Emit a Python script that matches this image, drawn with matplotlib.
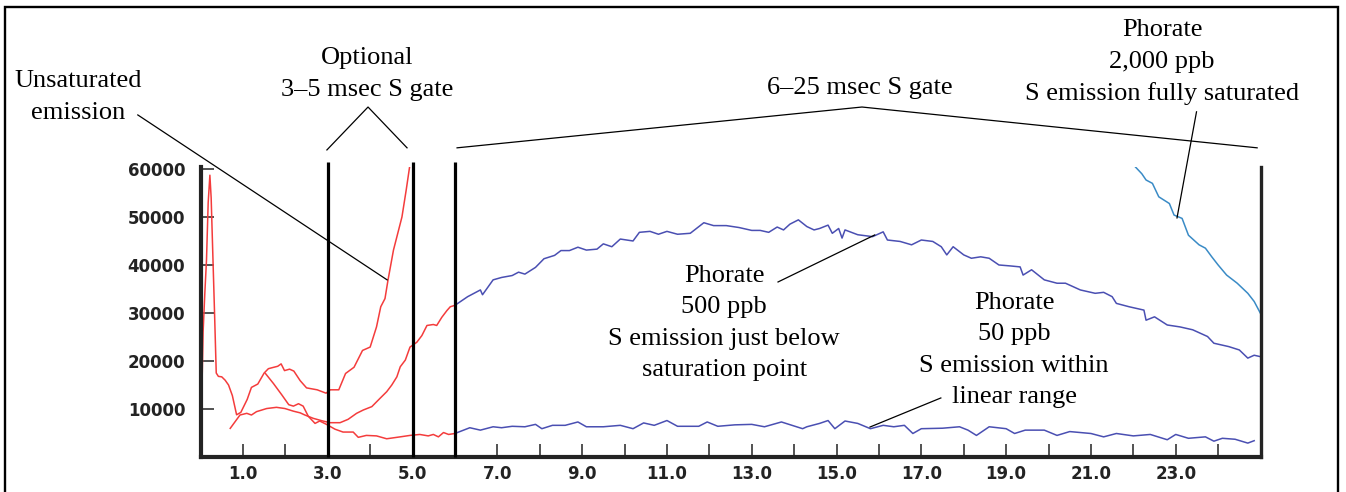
import matplotlib
matplotlib.use("Agg")
import matplotlib.pyplot as plt
import matplotlib.patches as patches

# ---- data ----
red_2000_x = [0.03, 0.06, 0.1, 0.14, 0.18, 0.22, 0.25, 0.29, 0.33, 0.37, 0.42, 0.5, 0.58, 0.66,
              0.75, 0.85, 0.95, 1.1, 1.2, 1.35, 1.5, 1.6, 1.73, 1.82, 1.9, 1.98, 2.1, 2.2, 2.35,
              2.5, 2.75, 2.96, 3.06, 3.26, 3.42, 3.62, 3.82, 4.0, 4.15, 4.25, 4.35, 4.42, 4.55,
              4.75, 4.85, 4.93]
red_2000_y = [13000, 26000, 34000, 41000, 53000, 58700, 54000, 42000, 30000, 17500, 16800,
              16700, 16000, 15000, 12800, 8800, 9300, 12000, 14500, 15200, 17500, 18400, 18700,
              18900, 19400, 18000, 18300, 17900, 15900, 14400, 14000, 13300, 14000, 14000,
              17400, 18700, 22200, 22900, 27100, 31300, 33000, 36800, 43100, 50000, 55600, 60400]

red_500_x = [0.7, 0.93, 1.09, 1.2, 1.32, 1.56, 1.79, 1.99, 2.19, 2.35, 2.46, 2.66, 2.86, 3.05,
             3.29, 3.48, 3.68, 3.84, 4.04, 4.23, 4.39, 4.51, 4.63, 4.71, 4.83, 4.94, 5.1, 5.22,
             5.34, 5.49, 5.57, 5.69, 5.81, 5.89, 6.0]
red_500_y = [5970, 8750, 9100, 8750, 9450, 10100, 10350, 10100, 9550, 9200, 8750, 8050, 7560,
             7150, 7150, 7850, 9100, 9800, 10500, 12200, 13600, 15000, 16700, 18800, 20200,
             22900, 23900, 25300, 27400, 27600, 27400, 29100, 30500, 31300, 31600]

red_50_x = [1.53, 1.72, 1.92, 2.08, 2.19, 2.31, 2.42, 2.54, 2.7, 2.81, 2.97, 3.17, 3.36, 3.6,
            3.72, 3.91, 4.15, 4.39, 4.71, 4.94, 5.17, 5.37, 5.49, 5.61, 5.73, 5.85, 6.0]
red_50_y = [17400, 15300, 12900, 10900, 10600, 11100, 10600, 8500, 7000, 7500, 6800, 5800, 5200,
            5200, 4100, 4500, 4400, 3800, 4200, 4500, 4700, 4400, 4700, 4200, 5100, 4700, 4900]

blue_500_x = [6.0, 6.3, 6.6, 6.65, 6.9, 7.1, 7.35, 7.5, 7.65, 7.9, 8.1, 8.35, 8.5, 8.7, 8.9, 9.1,
              9.35, 9.5, 9.7, 9.9, 10.2, 10.35, 10.6, 10.8, 11.0, 11.25, 11.55, 11.87, 12.1, 12.4,
              12.7, 13.0, 13.2, 13.4, 13.6, 13.75, 13.9, 14.1, 14.3, 14.47, 14.6, 14.8, 14.9,
              15.05, 15.13, 15.2, 15.5, 15.85, 16.1, 16.2, 16.5, 16.77, 17.0, 17.27, 17.47, 17.6,
              17.75, 18.0, 18.18, 18.4, 18.6, 18.83, 19.1, 19.33, 19.4, 19.6, 19.9, 20.2, 20.4,
              20.75, 21.1, 21.3, 21.5, 21.6, 21.9, 22.25, 22.3, 22.5, 22.8, 23.1, 23.4, 23.75,
              23.9, 24.25, 24.5, 24.7, 24.85, 25.0]
blue_500_y = [31600, 33400, 34800, 33800, 36900, 37400, 37800, 38500, 38100, 39500, 41300, 42000,
              43000, 43000, 43700, 43100, 43300, 44400, 43800, 45400, 45000, 46800, 47000, 46400,
              47000, 46400, 46600, 48800, 48200, 48200, 47800, 47200, 47200, 46800, 47900, 47300,
              48500, 49400, 48000, 47300, 47600, 48300, 46600, 47600, 45600, 47300, 46300, 45900,
              46900, 45200, 44900, 44200, 45200, 44900, 43800, 42100, 43800, 42100, 41400, 41700,
              41400, 40000, 39800, 39600, 37900, 39000, 36900, 36200, 36200, 34800, 34100, 34300,
              33400, 32000, 31300, 30600, 28500, 29200, 27500, 27100, 26500, 25100, 23700, 23000,
              22300, 20600, 21200, 20900]

blue_50_x = [6.0, 6.35, 6.6, 6.9, 7.1, 7.35, 7.65, 7.9, 8.05, 8.3, 8.6, 8.9, 9.1, 9.5, 9.9, 10.2,
             10.45, 10.7, 11.0, 11.25, 11.75, 11.95, 12.2, 12.6, 13.0, 13.3, 13.7, 13.95, 14.2,
             14.3, 14.6, 14.8, 14.96, 15.2, 15.5, 15.8, 16.1, 16.35, 16.6, 16.8, 17.0, 17.5, 17.9,
             18.1, 18.3, 18.6, 19.0, 19.2, 19.45, 19.9, 20.2, 20.5, 21.0, 21.3, 21.6, 22.0, 22.4,
             22.8, 23.0, 23.3, 23.7, 23.9, 24.1, 24.4, 24.7, 24.85]
blue_50_y = [4900, 6100, 5600, 6300, 6100, 6400, 6300, 6800, 5900, 6600, 6600, 7300, 6300, 6300,
             6600, 5900, 7100, 6600, 7600, 6400, 6400, 7300, 6400, 6700, 6800, 6300, 7300, 6600,
             5900, 6300, 7000, 7600, 5900, 7500, 7000, 5900, 6600, 6300, 6600, 4900, 5900, 6000,
             6300, 5600, 4500, 6300, 5900, 4900, 5600, 5600, 4500, 5300, 4900, 4200, 4900, 4400,
             4700, 3600, 4700, 3900, 4200, 3300, 3900, 3700, 2900, 3400]

sat_2000_x = [22.04, 22.2, 22.3, 22.45, 22.6, 22.85, 22.96, 23.15, 23.3, 23.55, 23.7, 23.85,
              24.0, 24.2, 24.45, 24.7, 24.85, 25.0]
sat_2000_y = [60500, 59000, 57700, 57000, 54200, 52800, 50400, 49700, 46200, 44200, 43500,
              41700, 40000, 37900, 36200, 34100, 32400, 29900]

gates = [3.0, 5.0, 6.0, 25.0]
gate_top = 61500
y_ticks = [10000, 20000, 30000, 40000, 50000, 60000]
x_ticks = list(range(1, 25))
x_labels = ["%.1f" % t if t % 2 == 1 else "" for t in x_ticks]

RED = "#f43c3c"
BLUE = "#4a4fb2"
LBLUE = "#3a8bc6"
INK = "#232323"
SERIF = "Liberation Serif"

fig = plt.figure(figsize=(13.46, 4.92), dpi=100)
ax = fig.add_axes([0.149, 0.0711, 0.7875, 0.5894])

lw = 1.1
ax.plot(red_2000_x, red_2000_y, color=RED, lw=lw)
ax.plot(red_500_x, red_500_y, color=RED, lw=lw)
ax.plot(red_50_x, red_50_y, color=RED, lw=lw)
ax.plot(blue_500_x, blue_500_y, color=BLUE, lw=lw)
ax.plot(blue_50_x, blue_50_y, color=BLUE, lw=lw)
ax.plot(sat_2000_x, sat_2000_y, color=LBLUE, lw=lw)

ax.vlines(gates[:3], 0, gate_top, color="black", lw=2.3, clip_on=False, zorder=3)

ax.set_xlim(0, 25)
ax.set_ylim(0, 60400)
ax.set_xticks(x_ticks)
ax.set_xticklabels(x_labels)
ax.set_yticks(y_ticks)
ax.set_yticklabels([str(v) for v in y_ticks])

ax.spines["top"].set_visible(False)
ax.spines["left"].set_linewidth(3.0)
ax.spines["bottom"].set_linewidth(3.0)
ax.spines["right"].set_linewidth(2.4)
for s in ["left", "bottom", "right"]:
    ax.spines[s].set_color(INK)

ax.tick_params(axis="both", direction="in", length=9.4, width=1.1, color=INK,
               labelsize=12, labelcolor=INK)
ax.tick_params(axis="y", pad=11)
ax.tick_params(axis="x", pad=6)
for lab in ax.get_xticklabels() + ax.get_yticklabels():
    lab.set_fontweight("bold")

# ---- annotations ----
tk = dict(fontsize=19, family=SERIF, ha="center", va="center", linespacing=1.55, color="black")
lk = dict(color="black", lw=0.9, clip_on=False)

ax.text(-2.89, 75000, "Unsaturated\nemission", **tk)
ax.plot([-1.48, 4.40], [71250, 36900], **lk)

ax.text(3.92, 79800, "Optional\n3\u20135 msec S gate", **tk)
ax.plot([2.98, 3.95, 4.87], [63960, 72900, 64400], **lk)

ax.text(15.56, 76900, "6\u201325 msec S gate", **tk)
ax.plot([6.05, 15.6, 24.92], [64400, 72900, 64400], **lk)

ax.text(22.68, 82200, "Phorate\n2,000 ppb\nS emission fully saturated", **tk)
ax.plot([23.49, 23.03], [71900, 49800], **lk)

ax.text(12.35, 27900, "Phorate\n500 ppb\nS emission just below\nsaturation point", **tk)
ax.plot([13.62, 15.9], [36460, 46250], **lk)

ax.text(19.19, 22300, "Phorate\n50 ppb\nS emission within\nlinear range", **tk)
ax.plot([17.46, 15.79], [12300, 6250], **lk)

# outer frame
fig.patches.append(patches.Rectangle((0.0037, -0.05), 0.9903, 1.0358, transform=fig.transFigure,
                                     fill=False, lw=1.7, edgecolor="black"))

fig.savefig("out.png", dpi=100)
